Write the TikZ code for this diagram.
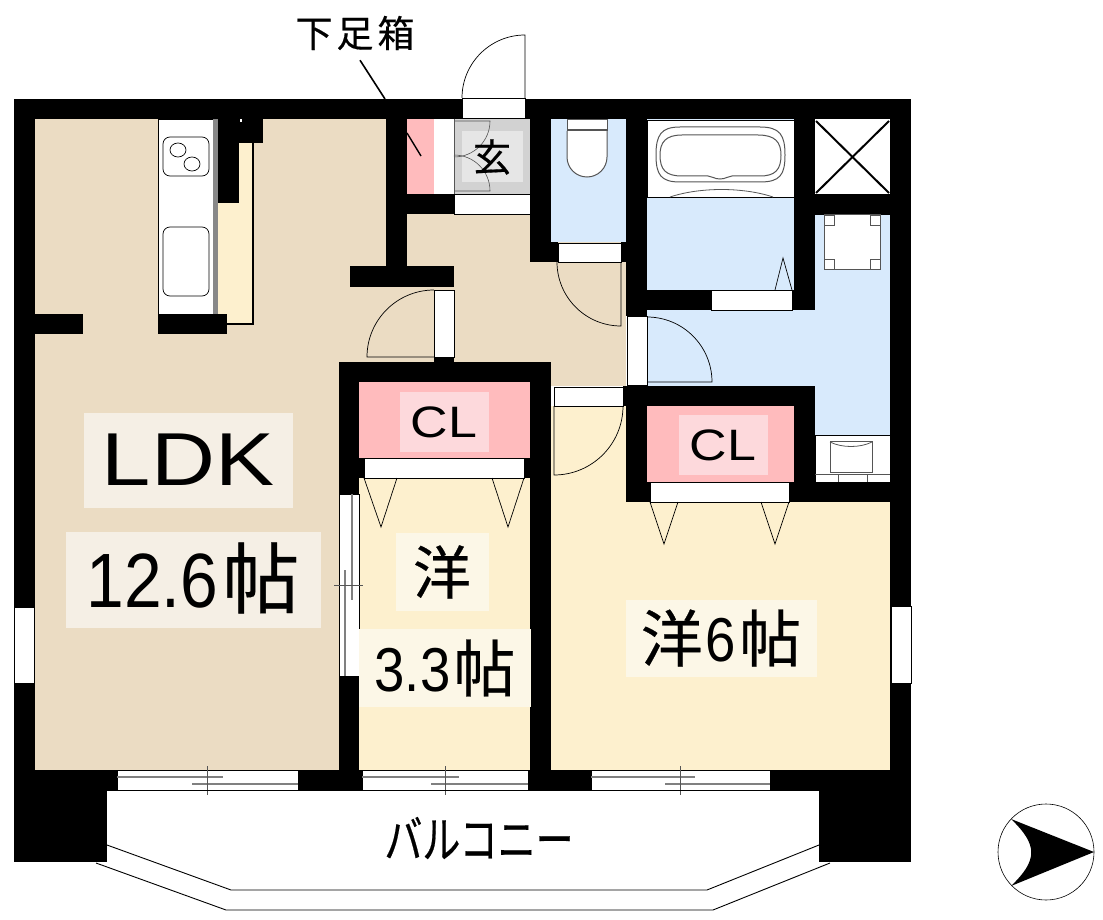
\documentclass[tikz,border=0pt]{standalone}
\usepackage{fontspec}
\setmainfont{Liberation Sans}
\newfontfamily\cjk[FakeBold=0.4]{Noto Sans CJK JP}
\newfontfamily\cjknarrow[FakeStretch=0.76, FakeBold=0.4]{Noto Sans CJK JP}
\newfontfamily\latinwide[FakeStretch=1.18]{Liberation Sans}
\newfontfamily\latinnarrow[FakeStretch=0.88]{Liberation Sans}
\definecolor{floorbeige}{HTML}{EBDCC3}
\definecolor{floorcream}{HTML}{FDF0CE}
\definecolor{floorpink}{HTML}{FFBBBD}
\definecolor{floorblue}{HTML}{D8EAFC}
\definecolor{floorgray}{HTML}{D2D2D2}
\definecolor{labelbeige}{HTML}{F5EFE5}
\definecolor{labelcream}{HTML}{FCF7E7}
\definecolor{labelpink}{HTML}{FDD9DC}
\definecolor{labelgray}{HTML}{E6E6E6}
\definecolor{fixgray}{HTML}{555555}
\tikzset{
    opening/.style={fill=white, draw=black, line width=0.7pt},
    swing/.style={draw=black, line width=0.7pt},
    fixture/.style={draw=fixgray, line width=1pt, fill=white},
    sash/.style={draw=gray, line width=1.6pt},
    roomlabel/.style={inner sep=0pt, text=black, align=center},
}
\begin{document}
\begin{tikzpicture}[x=1pt, y=-1pt]
    \useasboundingbox (0,0) rectangle (1103,920);

    % Floors
    \foreach \xa/\ya/\xb/\yb/\col in {35/119/407/362/floorbeige, 35/119/339/770/floorbeige, 386/214/626/386/floorbeige,
        359/478/530/770/floorcream, 551/406/890/770/floorcream, 218/143/253/324/floorcream,
        359/382/530/458/floorpink, 647/406/794/482/floorpink, 407/119/434/194/floorpink,
        551/119/626/242/floorblue, 647/119/794/290/floorblue, 647/310/815/386/floorblue, 815/215/890/435/floorblue,
        454/119/530/194/floorgray}
        \fill[\col] (\xa,\ya) rectangle (\xb,\yb);

    % Walls
    \foreach \xa/\ya/\xb/\yb in {14/99/911/119, 14/99/35/862, 890/99/911/862, 14/770/107/862, 819/770/911/862, 107/770/819/790,
        339/362/551/382, 339/362/359/790, 530/362/551/790, 339/458/551/478,
        386/119/407/266, 350/266/454/287, 407/194/454/214, 434/357/454/362,
        530/119/551/262, 530/242/558/262, 621/242/647/262, 626/99/647/316,
        794/99/815/310, 647/290/815/310, 815/194/890/215,
        623/386/815/406, 626/386/647/502, 794/386/815/482, 647/482/890/502,
        218/119/239/203, 239/119/263/143, 158/314/227/334, 35/314/83/334}
        \fill[black] (\xa,\ya) rectangle (\xb,\yb);

    % Door and window openings
    \foreach \xa/\ya/\xb/\yb in {462/98/525/118, 434/290/454/357, 558/243/621/262, 627/316/647/385, 711/290/792/310,
        554/387/623/406, 364/458/524/478, 650/482/789/502, 454/194/530/214,
        117/770/298/790, 362/770/528/790, 591/770/770/790, 339/494/359/676,
        14/607/34/683, 891/606/911/683}
        \draw[opening] (\xa,\ya) rectangle (\xb,\yb);
    \fill[white] (434,121) rectangle (454,192);

    % Swing doors
    \foreach \hx/\hy/\rad/\sa/\ea in {525/98/63/-90/-180, 434/357/67/180/270, 621/262/64/90/180, 647/382/65/0/-90, 554/406/69/90/0}
        \draw[swing] (\hx,\hy) -- ++(\sa:\rad) arc[start angle=\sa, end angle=\ea, radius=\rad];

    % Folding doors
    \foreach \xa/\xm/\xb/\ya/\ym in {364/381/397/478/527, 492/508/524/478/527, 650/664/678/502/544, 761/775/789/502/544, 775/783/792/290/258}
        \draw[swing] (\xa,\ya) -- (\xm,\ym) -- (\xb,\ya);

    % Sliding sashes
    \foreach \xa/\xb/\xc/\xd/\xm in {117/223/192/298/207, 362/459/431/528/445, 591/695/665/770/680} {
        \draw[sash] (\xa,777) -- (\xb,777);
        \draw[sash] (\xc,784) -- (\xd,784);
        \draw[line width=0.5pt, fixgray] (\xm,766) -- (\xm,795);
    }
    \draw[sash] (352,494) -- (352,600);
    \draw[sash] (345,570) -- (345,676);
    \draw[line width=0.5pt, fixgray] (334,585) -- (363,585);

    % Kitchen
    \draw[line width=0.7pt, fill=white] (158,119) rectangle (213,314);
    \fill[fixgray!70] (213,119) rectangle (218,314);
    \draw[black, line width=1.6pt] (253,143) -- (253,324) -- (227,324);
    \draw[line width=0.7pt, rounded corners=7pt] (163,137) rectangle (209,176);
    \draw[line width=0.7pt] (178,150) ellipse (8 and 7);
    \draw[line width=0.7pt] (192,164) ellipse (8 and 7);
    \draw[line width=0.7pt, rounded corners=7pt] (163,227) rectangle (209,296);
    \fill[white] (240,119) rectangle (242,122);

    % Shoe cupboard and entrance
    \draw[black, line width=1.4pt] (407,133) -- (421,156);
    \node[fill=labelgray, minimum width=61pt, minimum height=51pt, inner sep=0pt] (genkanbox) at (492,157) {};
    \foreach \hy/\ea in {121/90, 191/-90}
        \draw[fixgray, line width=0.6pt] (454,\hy) -- ++(36,0) arc[start angle=0, end angle=\ea, radius=36];
    \draw[fixgray, line width=0.6pt] (454,119) -- (454,194);

    % Toilet
    \draw[fixture] (567,120) rectangle (607,131);
    \draw[fixture] (567,131) -- (567,157) arc[start angle=180, end angle=0, radius=20] -- (607,131);
    \draw[fixgray, line width=1.6pt] (567,130) -- (607,130);

    % Bath
    \draw[line width=0.7pt, fill=white] (647,120) rectangle (794,197);
    \draw[fixture] (680,127) -- (760,127) .. controls (780,127) and (785,135) .. (785,155)
        .. controls (785,175) and (780,182) .. (760,182) -- (680,182)
        .. controls (661,182) and (656,175) .. (656,155) .. controls (656,135) and (661,127) .. (680,127) -- cycle;
    \draw[fixture] (682,135) -- (758,135) .. controls (775,135) and (781,142) .. (781,155)
        .. controls (781,170) and (775,176) .. (760,176) -- (732,176)
        .. controls (728,176) and (726,179) .. (720,179) .. controls (714,179) and (712,176) .. (708,176)
        -- (682,176) .. controls (666,176) and (660,170) .. (660,155) .. controls (660,142) and (666,135) .. (682,135) -- cycle;
    \draw[fixgray, line width=0.8pt] (670,197) .. controls (700,187) and (743,187) .. (773,197);

    % Duct
    \fill[white] (815,119) rectangle (890,194);
    \draw[black, line width=2pt] (816,121) -- (889,193);
    \draw[black, line width=2pt] (889,121) -- (816,193);

    % Washing machine
    \draw[fixture] (824,215) rectangle (880,269);
    \foreach \xa/\ya in {824/215, 870/215, 824/259, 870/259}
        \draw[fixgray, line width=0.8pt] (\xa,\ya) rectangle ++(10,10);

    % Basin
    \draw[line width=0.6pt, fill=white] (815,435) rectangle (890,482);
    \draw[fixture] (830,441) rectangle (872,472);
    \draw[fixgray, line width=0.8pt] (830,442) .. controls (842,448) and (860,448) .. (872,442);
    \draw[fixgray, line width=0.8pt] (815,474) -- (890,474);
    \foreach \xm in {838,867}
        \draw[fixgray, line width=0.8pt] (\xm,474) -- (\xm,482);

    % Balcony
    \draw[line width=0.9pt] (107,790) -- (819,790);
    \draw[line width=0.9pt] (107,845) -- (231,890) -- (707,890) -- (819,845);
    \draw[line width=0.9pt] (96,863) -- (226,910) -- (713,910) -- (830,863);

    % Compass
    \draw[line width=0.6pt] (1046,852) circle (48);
    \fill[black] (1094,852) -- (1011,819) .. controls (1038,845) and (1038,860) .. (1011,886) -- cycle;

    % Labels
    \foreach \nm/\cx/\cy/\bw/\bh/\col in {ldkbox/188/460/209/95/labelbeige, sizebox/193/580/255/96/labelbeige,
        yobox/442/572/93/78/labelcream, smallbox/445/668/172/78/labelcream, sixbox/721/638/191/77/labelcream,
        clabox/444/422/89/60/labelpink, clbbox/723/445/89/60/labelpink}
        \node[fill=\col, minimum width=\bw pt, minimum height=\bh pt, inner sep=0pt] (\nm) at (\cx,\cy) {};

    \node[roomlabel, font=\fontsize{75}{80}\selectfont\latinwide] (ldk) at (ldkbox) {LDK};
    \node[roomlabel] (ldksize) at ([yshift=2pt]sizebox) {\fontsize{77}{80}\selectfont\latinnarrow 12.6\hspace{4pt}\cjk 帖};
    \node[roomlabel, font=\fontsize{58}{60}\selectfont\cjk] (yo) at (yobox) {洋};
    \node[roomlabel] (smallsize) at (smallbox) {\fontsize{62}{64}\selectfont\latinnarrow 3.3\hspace{3pt}\cjk 帖};
    \node[roomlabel] (six) at (sixbox) {\fontsize{62}{64}\selectfont\cjk 洋\hspace{3pt}\latinnarrow 6\hspace{3pt}\cjk 帖};
    \node[roomlabel, font=\fontsize{44}{46}\selectfont\latinwide] (cla) at (clabox) {CL};
    \node[roomlabel, font=\fontsize{44}{46}\selectfont\latinwide] (clb) at (clbbox) {CL};
    \node[roomlabel, font=\fontsize{38}{40}\selectfont\cjk] (genkan) at (genkanbox) {玄};
    \node[roomlabel, font=\fontsize{50}{54}\selectfont\cjknarrow] (balcony) at (479,838) {バルコニー};
    \node[roomlabel, font=\fontsize{37}{40}\selectfont\cjk, minimum height=54pt] (shoe) at (355,33) {下\hspace{4pt}足\hspace{4pt}箱};

    % Leader
    \coordinate (shoeend) at (385,99);
    \draw[black, line width=1.6pt] ([xshift=5pt]shoe.south) -- (shoeend);
\end{tikzpicture}
\end{document}
